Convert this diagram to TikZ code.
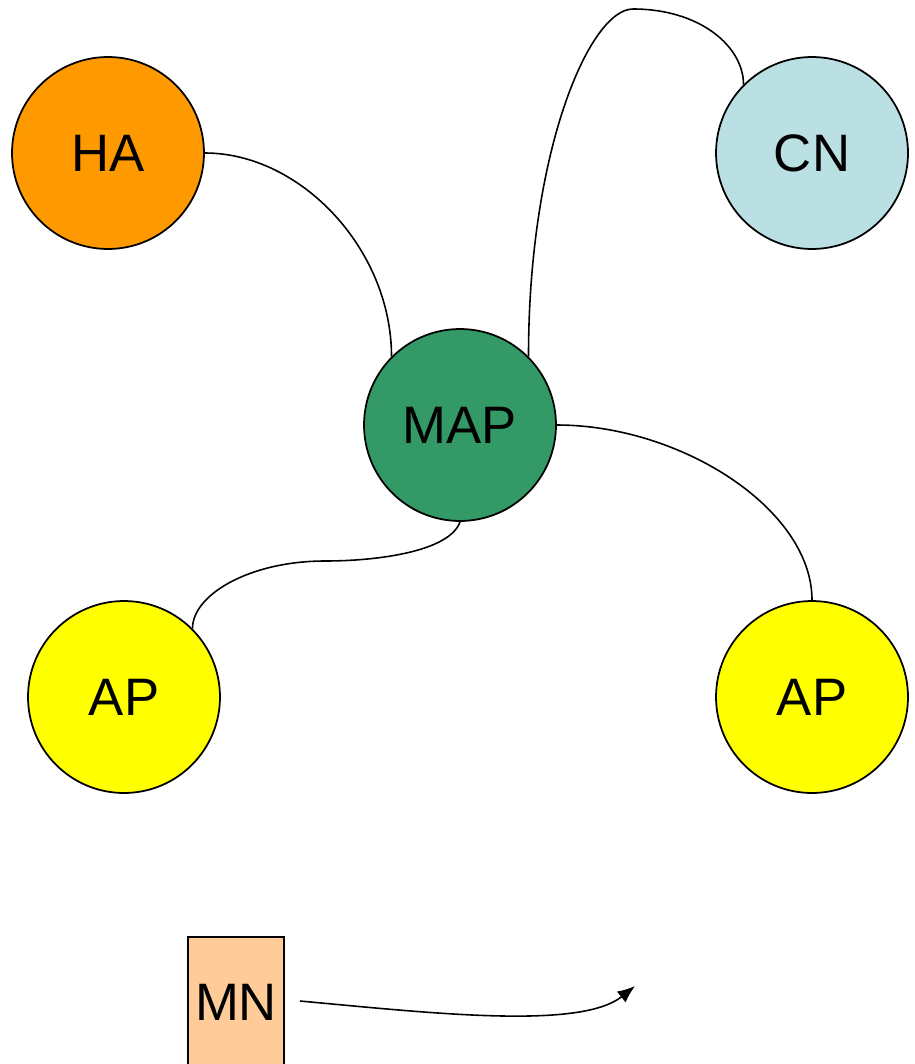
\documentclass[tikz,border=0pt]{standalone}
\usepackage{fontspec}
\setmainfont{Liberation Sans}
\usetikzlibrary{arrows.meta,shapes.geometric}
\definecolor{haorange}{HTML}{FF9900}
\definecolor{cnblue}{HTML}{BBE0E3}
\definecolor{mapgreen}{HTML}{339966}
\definecolor{apyellow}{HTML}{FFFF00}
\definecolor{mnpeach}{HTML}{FFCC99}
\tikzset{
  >={Latex[length=10pt,width=8pt]},
  agent/.style={
    circle,
    draw=black, line width=1pt,
    minimum size=3.84cm,
    inner sep=0pt,
    font=\fontsize{30}{35}\selectfont},
  mobile/.style={
    rectangle,
    draw=black, line width=1pt,
    minimum width=1.92cm,
    minimum height=2.6cm,
    inner sep=0pt,
    font=\fontsize{30}{35}\selectfont},
  link/.style={draw, line width=0.9pt},
}

\begin{document}
\begin{tikzpicture}[
    x=0.02cm, y=-0.02cm,
    move/.style={line width=0.9pt, ->}
    ]

	\clip (0,0) rectangle (915,1064);

	% agents
	\node[agent, fill=haorange] (ha) at (108,153) {HA};
	\node[agent, fill=cnblue] (cn) at (812,153) {CN};
	\node[agent, fill=mapgreen] (map) at (460,425) {MAP};
	\node[agent, fill=apyellow] (apl) at (124,697) {AP};
	\node[agent, fill=apyellow] (apr) at (812,697) {AP};

	% mobile node
	\node[mobile, fill=mnpeach] (mn) at (236,1002) {MN};
	\coordinate (dest) at (635,986);

	% links
	\draw[link] (ha.east) .. controls +(96,0) and +(0,-107) .. (map.135);
	\draw[link] (map.45) .. controls +(0,-207) and +(-43,0) .. (633,9)
	    .. controls +(67,0) and +(0,-38) .. (cn.135);
	\draw[link] (map.east) .. controls +(124,0) and +(0,-91) .. (apr.north);
	\draw[link] (map.south) .. controls +(-10,29) and +(55,0) .. (325,561)
	    .. controls +(-75,0) and +(0,-34) .. (apl.45);

	% movement
	\draw[move] (mn.east) ++(15,-1) .. controls +(131,12) and +(-55,44) .. (dest);

\end{tikzpicture}
\end{document}
